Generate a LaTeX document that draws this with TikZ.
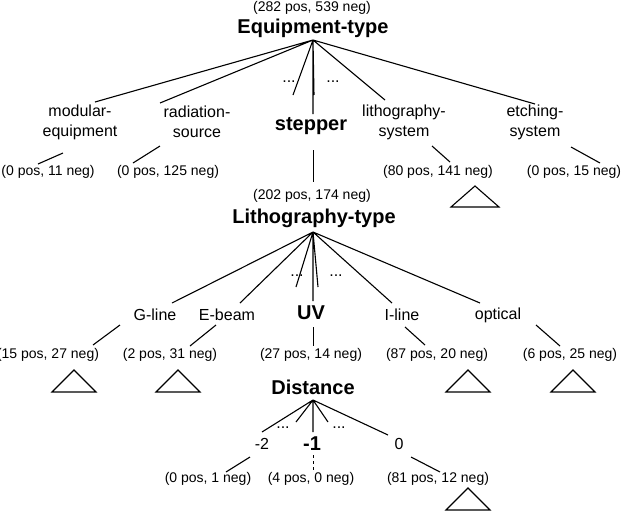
\documentclass[tikz,border=0pt]{standalone}
\usepackage{fontspec}
\setmainfont{Liberation Sans}
\begin{document}
\begin{tikzpicture}[x=1pt,y=-1pt,
 lbl/.style={font=\fontsize{16}{16}\selectfont,inner sep=0pt},
 cnt/.style={font=\fontsize{14}{14}\selectfont,inner sep=0pt},
 ttl/.style={font=\bfseries\fontsize{20}{20}\selectfont,inner sep=0pt},
 ln/.style={line width=1.1pt},
 tri/.style={line width=1.1pt}]
\useasboundingbox (0,0) rectangle (624,512);
% level 1
\node[cnt] (c0) at (312,8) {(282 pos, 539 neg)};
\node[ttl] (t0) at (313,28) {Equipment-type};
\coordinate (a0) at (313,40);
\node[lbl,align=center] (m) at (80,122) {modular-\\[4pt]equipment};
\node[lbl,align=center] (r) at (197,122) {radiation-\\[4pt]source};
\node[ttl] (st) at (311,126) {stepper};
\node[lbl,align=center] (ls) at (404,122) {lithography-\\[4pt]system};
\node[lbl,align=center] (es) at (535,122) {etching-\\[4pt]system};
\node[lbl] (d1) at (289,82) {...};
\node[lbl] (d2) at (333,82) {...};
\draw[ln] (a0) -- (95,102) (a0) -- (160,103) (a0) -- (293,95) (a0) -- (314,95) (a0)--(313,114) (a0) -- (385,100) (a0) -- (535,104);
\node[cnt] (c11) at (48,172) {(0 pos, 11 neg)};
\node[cnt] (c12) at (168,172) {(0 pos, 125 neg)};
\node[cnt] (c14) at (438,172) {(80 pos, 141 neg)};
\node[cnt] (c15) at (574,172) {(0 pos, 15 neg)};
\draw[ln] (63,153)--(38,164) (160,146)--(133,163) (432,146)--(450,162) (571,147)--(600,163);
\draw[tri] (475,186)--(451,207)--(499,207)--cycle;
\draw[line width=0.8pt] (313,150)--(313,182);
% level 2
\node[cnt] (c1) at (312,196) {(202 pos, 174 neg)};
\node[ttl] (t1) at (314,218) {Lithography-type};
\coordinate (a1) at (313,232);
\node[lbl] (g) at (155,315) {G-line};
\node[lbl] (e) at (227,315) {E-beam};
\node[ttl] (uv) at (311,313) {UV};
\node[lbl] (i) at (402,315) {I-line};
\node[lbl] (o) at (498,315) {optical};
\node[lbl] (d3) at (297,276) {...};
\node[lbl] (d4) at (336,276) {...};
\draw[ln] (a1)--(172,303) (a1)--(240,303) (a1)--(296,287) (a1)--(318,287) (a1)--(313,301) (a1)--(392,303) (a1)--(480,303);
\node[cnt] (c21) at (48,355) {(15 pos, 27 neg)};
\node[cnt] (c22) at (170,355) {(2 pos, 31 neg)};
\node[cnt] (c24) at (437,355) {(87 pos, 20 neg)};
\node[cnt] (c25) at (570,355) {(6 pos, 25 neg)};
\draw[ln] (120,325)--(93,345) (216,325)--(190,346) (405,327)--(425,345) (536,325)--(560,346);
\draw[tri] (74,370)--(52,392)--(96,392)--cycle;
\draw[tri] (178,370)--(156,392)--(200,392)--cycle;
\draw[tri] (468,370)--(446,392)--(490,392)--cycle;
\draw[tri] (573,370)--(551,392)--(595,392)--cycle;
\draw[line width=0.8pt] (313,327)--(313,346);
% level 3
\node[cnt] (c2) at (311,355) {(27 pos, 14 neg)};
\node[ttl] (t2) at (313,387) {Distance};
\coordinate (a2) at (313,400);
\node[lbl] (m2) at (262,444) {-2};
\node[ttl] (m1) at (312,444) {-1};
\node[lbl] (z) at (399,444) {0};
\node[lbl] (d5) at (283,428) {...};
\node[lbl] (d6) at (339,428) {...};
\draw[ln] (a2)--(262,432) (a2)--(296,422) (a2)--(328,422) (a2)--(313,432) (a2)--(388,435);
\node[cnt] (c31) at (208,479) {(0 pos, 1 neg)};
\node[cnt] (c32) at (311,479) {(4 pos, 0 neg)};
\node[cnt] (c33) at (438,479) {(81 pos, 12 neg)};
\draw[ln] (250,457)--(226,472) (411,457)--(440,472);
\draw[line width=0.8pt,dashed] (313,455)--(313,471);
\draw[tri] (468,488)--(446,510)--(490,510)--cycle;
\end{tikzpicture}
\end{document}
